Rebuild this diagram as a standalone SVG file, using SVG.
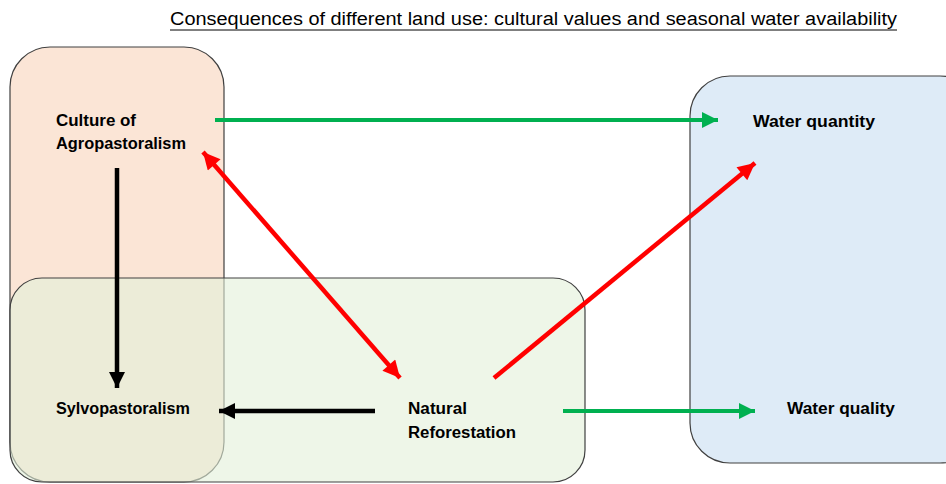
<svg xmlns="http://www.w3.org/2000/svg" width="946" height="484" viewBox="0 0 946 484">
<defs>
<style>
.lbl{font-family:"Liberation Sans",Arial,sans-serif;font-size:16px;font-weight:bold;fill:#000}
.box{stroke:#404040;stroke-width:1.2}
.g{stroke:#00B050;stroke-width:4;fill:none}
.r{stroke:#FF0000;stroke-width:4.5;fill:none}
.k{stroke:#000;stroke-width:4.5;fill:none}
</style>
<marker id="ag" viewBox="0 0 10 10" refX="10" refY="5" markerWidth="19" markerHeight="16" markerUnits="userSpaceOnUse" orient="auto-start-reverse"><path d="M0,0 L10,5 L0,10 z" fill="#00B050"/></marker>
<marker id="ar" viewBox="0 0 10 10" refX="10" refY="5" markerWidth="20" markerHeight="17" markerUnits="userSpaceOnUse" orient="auto-start-reverse"><path d="M0,0 L10,5 L0,10 z" fill="#FF0000"/></marker>
<marker id="ak" viewBox="0 0 10 10" refX="10" refY="5" markerWidth="19" markerHeight="16" markerUnits="userSpaceOnUse" orient="auto-start-reverse"><path d="M0,0 L10,5 L0,10 z" fill="#000"/></marker>
</defs>
<rect width="946" height="484" fill="#fff"/>
<text x="170" y="25" font-family="Liberation Sans,Arial,sans-serif" font-size="18" textLength="727" lengthAdjust="spacingAndGlyphs" fill="#000">Consequences of different land use: cultural values and seasonal water availability</text>
<line x1="170" y1="30" x2="897" y2="30" stroke="#000" stroke-width="1"/>
<g id="agro-region"><rect class="box" x="10" y="47" width="214" height="435" rx="40" fill="#FBE5D6"/></g>
<g id="forest-region"><rect class="box" x="10" y="278" width="575" height="204" rx="32" fill="#E2F0D9" fill-opacity="0.6"/></g>
<g id="water-region"><rect class="box" x="690" y="76" width="290" height="387" rx="40" fill="#DEEBF7"/></g>
<g id="culture"><text class="lbl" x="56" y="126" textLength="80" lengthAdjust="spacingAndGlyphs">Culture of</text><text class="lbl" x="56" y="149" textLength="130" lengthAdjust="spacingAndGlyphs">Agropastoralism</text></g>
<g id="sylvo"><text class="lbl" x="56" y="414" textLength="134" lengthAdjust="spacingAndGlyphs">Sylvopastoralism</text></g>
<g id="natural"><text class="lbl" x="408" y="414" textLength="59" lengthAdjust="spacingAndGlyphs">Natural</text><text class="lbl" x="408" y="438" textLength="108" lengthAdjust="spacingAndGlyphs">Reforestation</text></g>
<g id="wquantity"><text class="lbl" x="753" y="127" textLength="122" lengthAdjust="spacingAndGlyphs">Water quantity</text></g>
<g id="wquality"><text class="lbl" x="787" y="414" textLength="108" lengthAdjust="spacingAndGlyphs">Water quality</text></g>
<g id="connectors">
<line class="g" x1="215" y1="120" x2="718" y2="120" marker-end="url(#ag)"/>
<line class="g" x1="563" y1="411" x2="755" y2="411" marker-end="url(#ag)"/>
<line class="r" x1="203" y1="152" x2="400" y2="378" marker-start="url(#ar)" marker-end="url(#ar)"/>
<line class="r" x1="494" y1="378" x2="755" y2="163" marker-end="url(#ar)"/>
<line class="k" x1="117" y1="168" x2="117" y2="388" marker-end="url(#ak)"/>
<line class="k" x1="375" y1="411" x2="219" y2="411" marker-end="url(#ak)"/>
</g>
</svg>
